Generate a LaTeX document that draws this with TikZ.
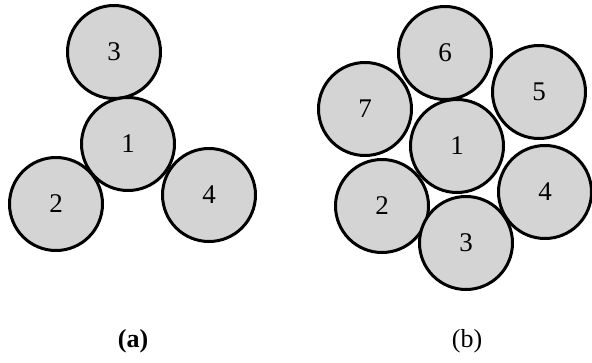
\documentclass[tikz,border=0pt]{standalone}
\usepackage{fontspec}
\setmainfont{Liberation Serif}
\begin{document}
\begin{tikzpicture}[x=1pt,y=-1pt,
  ball/.style={circle,draw=black,line width=3pt,fill=black!17,minimum size=93pt,inner sep=0pt,font=\fontsize{27}{27}\selectfont},
  captext/.style={font=\fontsize{26}{26}\selectfont}]
\useasboundingbox (0,0) rectangle (592,362);
% (a)
\node[ball] (a3) at (114,52) {3};
\node[ball] (a1) at (128,144) {1};
\node[ball] (a2) at (56,204) {2};
\node[ball] (a4) at (209,195) {4};
\node[captext] (la) at (133,341) {\textbf{(a)}};
% (b)
\node[ball] (b6) at (445,53) {6};
\node[ball] (b7) at (365,109) {7};
\node[ball] (b5) at (539,92) {5};
\node[ball] (b1) at (457,146) {1};
\node[ball] (b2) at (382,206) {2};
\node[ball] (b4) at (545,192) {4};
\node[ball] (b3) at (466,243) {3};
\node[captext] (lb) at (467,341) {(b)};
\end{tikzpicture}
\end{document}
